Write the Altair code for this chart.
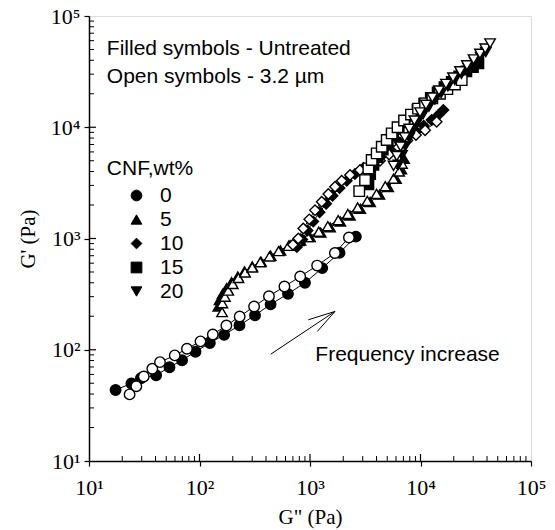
import altair as alt
import pandas as pd

# ---------------- data (G'' , G') ----------------
# 0 wt% CNF
X0F = [17.4, 24.2, 29.5, 40.5, 53.5, 69.5, 92, 124, 167, 230, 318, 440, 632, 900, 1290, 1850, 2600]
Y0F = [43.5, 49.8, 55.5, 59, 69.7, 80.5, 96, 115, 136, 166, 204, 256, 318, 400, 542, 745, 1040]
X0O = [23.3, 26.8, 31.3, 37.4, 43.9, 59.7, 77, 102, 132, 175, 231, 312, 425, 587, 815, 1160, 1680, 2250]
Y0O = [39.7, 47, 57.5, 67.5, 77.4, 89, 102, 119, 137, 165, 199, 245, 303, 370, 455, 571, 740, 1020]
# 5 wt% CNF
X5F = [148, 152, 162, 176, 195, 222, 255, 300, 360, 440, 540, 660, 820, 1000, 1250, 1520, 1880, 2300, 2850, 3500, 4250, 5100, 6000, 6700, 7100]
Y5F = [245, 280, 318, 358, 405, 455, 505, 560, 620, 700, 780, 870, 960, 1030, 1130, 1260, 1420, 1610, 1850, 2130, 2480, 2900, 3450, 4200, 5200]
X5O = [160, 161, 170, 182, 200, 225, 258, 300, 355, 430, 520, 640, 790, 960, 1200, 1450, 1800, 2200, 2700, 3300, 4000, 4800, 5700, 6400, 6800]
Y5O = [218, 262, 300, 340, 390, 442, 495, 550, 612, 690, 770, 860, 950, 1030, 1150, 1290, 1460, 1660, 1900, 2180, 2520, 2950, 3450, 4000, 4700]
# 10 wt% CNF
X10F = [760, 850, 950, 1070, 1220, 1400, 1600, 1850, 2150, 2550, 3050, 3700, 4500, 5400, 6500, 7700, 9100, 10700, 12600, 14500, 16100]
Y10F = [840, 980, 1180, 1420, 1720, 2050, 2420, 2850, 3300, 3800, 4300, 4900, 5600, 6400, 7300, 8200, 9200, 10300, 11600, 12900, 14300]
X10O = [700, 783, 869, 985, 1110, 1276, 1465, 1684, 1936, 2303, 2834, 3500, 4300, 5200, 6300, 7600, 9100, 11000, 14000]
Y10O = [880, 1002, 1233, 1486, 1799, 2138, 2507, 2918, 3304, 3717, 4121, 4500, 5000, 5700, 6600, 7600, 8500, 9400, 11200]
# 15 wt% CNF
X15F = [3375, 3500, 3750, 4100, 4550, 5050, 5650, 6350, 7200, 8200, 9400, 10800, 12400, 14300, 16500, 19200, 22400, 26000, 29800, 33400]
Y15F = [3070, 3800, 4600, 5400, 6300, 7300, 8400, 9700, 11100, 12700, 14400, 16300, 18300, 20500, 22900, 25600, 28600, 31800, 34800, 37600]
X15O = [2790, 3150, 3375, 3615, 4013, 4460, 4945, 5485, 6200, 7100, 8200, 9500, 11000, 12800, 15000, 17500, 20500, 23600]
Y15O = [2667, 3350, 4266, 5070, 5820, 6680, 7670, 8810, 10000, 11500, 13000, 14700, 16400, 18200, 20000, 22000, 24200, 26500]
# 20 wt% CNF
X20F = [6300, 6800, 7300, 7900, 8600, 9500, 10600, 11900, 13500, 15400, 17700, 20400, 23500, 27000, 31000, 35000, 39000]
Y20F = [4600, 5600, 6800, 8100, 9600, 11300, 13200, 15300, 17700, 20300, 23300, 26600, 30200, 34100, 38400, 42800, 47500]
X20O = [5700, 6100, 6600, 7200, 7900, 8800, 9900, 11200, 12800, 14700, 17000, 19700, 22800, 26300, 30200, 34500, 38500, 42600]
Y20O = [4500, 5500, 6700, 8100, 9700, 11500, 13600, 15900, 18500, 21400, 24500, 28000, 31800, 36000, 40700, 45800, 51000, 56700]

CNF_LEVELS = ["0", "5", "10", "15", "20"]
SHAPES = ["circle", "triangle-up", "diamond", "square", "triangle-down"]
TREATS = ["filled", "open"]
TREAT_FILLS = ["black", "white"]

# annotations (data coordinates)
NOTE_TEXT = ["Filled symbols - Untreated", "Open symbols - 3.2 \u00b5m", "CNF,wt%", "Frequency increase"]
NOTE_X = [14.5, 14.5, 14.5, 1117]
NOTE_Y = [45000, 25100, 3700, 78.9]
# arrow segments: shaft, two head arms
ARROW_X1 = [441, 1683, 1683]
ARROW_Y1 = [91.2, 221, 221]
ARROW_X2 = [1683, 966, 1164]
ARROW_Y2 = [221, 186, 146]

DECADES = [10, 100, 1000, 10000, 100000]
INNER_MAJOR = [100, 1000, 10000]
MINOR = [m * d for d in [10, 100, 1000, 10000] for m in range(2, 10)]

# ---------------- table ----------------
series = [
    ("0", "filled", X0F, Y0F), ("0", "open", X0O, Y0O),
    ("5", "filled", X5F, Y5F), ("5", "open", X5O, Y5O),
    ("10", "filled", X10F, Y10F), ("10", "open", X10O, Y10O),
    ("15", "filled", X15F, Y15F), ("15", "open", X15O, Y15O),
    ("20", "filled", X20F, Y20F), ("20", "open", X20O, Y20O),
]
rows = []
for cnf, treat, xs, ys in series:
    for i, (a, b) in enumerate(zip(xs, ys)):
        rows.append(dict(x=a, y=b, cnf=cnf, treat=treat, series=cnf + "_" + treat, idx=i))
df = pd.DataFrame(rows)

W, H = 442, 445
SERIF = "Liberation Serif"
SANS = "Liberation Sans"

xscale = alt.Scale(type="log", domain=[10, 100000], nice=False)
yscale = alt.Scale(type="log", domain=[10, 100000], nice=False)
label_expr = ("datum.value == 10 ? '10\u00b9' : datum.value == 100 ? '10\u00b2' : "
              "datum.value == 1000 ? '10\u00b3' : datum.value == 10000 ? '10\u2074' : '10\u2075'")

xaxis = alt.Axis(values=DECADES, labelExpr=label_expr, tickSize=5, tickColor="black", tickWidth=1.2,
                 labelPadding=11, labelFlush=False, labelFont=SERIF, labelFontSize=22, labelColor="black",
                 titleFont=SERIF, titleFontSize=21, titleFontWeight="normal", titleColor="black",
                 titlePadding=8, grid=False, domainColor="black", domainWidth=1.5)
yaxis = alt.Axis(values=DECADES, labelExpr=label_expr, tickSize=5, tickColor="black", tickWidth=1.2,
                 labelPadding=4, labelFlush=False, labelFont=SERIF, labelFontSize=22, labelColor="black",
                 titleFont=SERIF, titleFontSize=21, titleFontWeight="normal", titleColor="black",
                 titlePadding=12, grid=False, domainColor="black", domainWidth=1.5)


def X(field="x"):
    return alt.X(field + ":Q", scale=xscale, axis=xaxis, title='G" (Pa)')


def Y(field="y"):
    return alt.Y(field + ":Q", scale=yscale, axis=yaxis, title="G' (Pa)")


lines = alt.Chart(df).mark_line(color="black", strokeWidth=1).encode(
    x=X(), y=Y(), detail="series:N", order="idx:Q")

points = alt.Chart(df).mark_point(strokeWidth=1.4, stroke="black", opacity=1, fillOpacity=1).encode(
    x=X(), y=Y(),
    shape=alt.Shape("cnf:N", scale=alt.Scale(domain=CNF_LEVELS, range=SHAPES), title=None,
                    legend=alt.Legend(orient="none", legendX=37, legendY=169, padding=0,
                                      labelFont=SANS, labelFontSize=21, labelColor="black",
                                      labelOffset=13, rowPadding=2, symbolSize=115,
                                      symbolFillColor="black", symbolStrokeColor="black",
                                      symbolOpacity=1, symbolStrokeWidth=1)),
    fill=alt.Fill("treat:N", scale=alt.Scale(domain=TREATS, range=TREAT_FILLS), legend=None),
    size=alt.value(110),
)

notes_df = pd.DataFrame({"x": NOTE_X, "y": NOTE_Y, "t": NOTE_TEXT})
notes = alt.Chart(notes_df).mark_text(align="left", baseline="alphabetic", font=SANS, fontSize=21,
                                      color="black").encode(x=X(), y=Y(), text="t:N")

arrow_df = pd.DataFrame({"x": ARROW_X1, "y": ARROW_Y1, "x2": ARROW_X2, "y2": ARROW_Y2})
arrow = alt.Chart(arrow_df).mark_rule(color="black", strokeWidth=1).encode(
    x=X(), y=Y(), x2="x2:Q", y2="y2:Q")

xminor = alt.Chart(pd.DataFrame({"x": MINOR})).mark_rule(color="black", strokeWidth=1).encode(
    x=X(), y=alt.value(H), y2=alt.value(H - 5))
xmajor = alt.Chart(pd.DataFrame({"x": INNER_MAJOR})).mark_rule(color="black", strokeWidth=1.2).encode(
    x=X(), y=alt.value(H), y2=alt.value(H - 7))
yminor = alt.Chart(pd.DataFrame({"y": MINOR})).mark_rule(color="black", strokeWidth=1).encode(
    y=Y(), x=alt.value(0), x2=alt.value(5))
ymajor = alt.Chart(pd.DataFrame({"y": INNER_MAJOR})).mark_rule(color="black", strokeWidth=1.2).encode(
    y=Y(), x=alt.value(0), x2=alt.value(7))

chart = alt.layer(lines, points, notes, arrow, xminor, xmajor, yminor, ymajor).properties(
    width=W, height=H,
    autosize=alt.AutoSizeParams(type="none"),
    padding={"left": 89, "top": 16, "right": 24, "bottom": 69},
).configure_view(stroke="black", strokeWidth=1.5).configure_legend(
    symbolBaseFillColor="black", symbolBaseStrokeColor="black"
).configure(background="white")

chart.save("out.html", embed_options={"renderer": "svg", "actions": False})
